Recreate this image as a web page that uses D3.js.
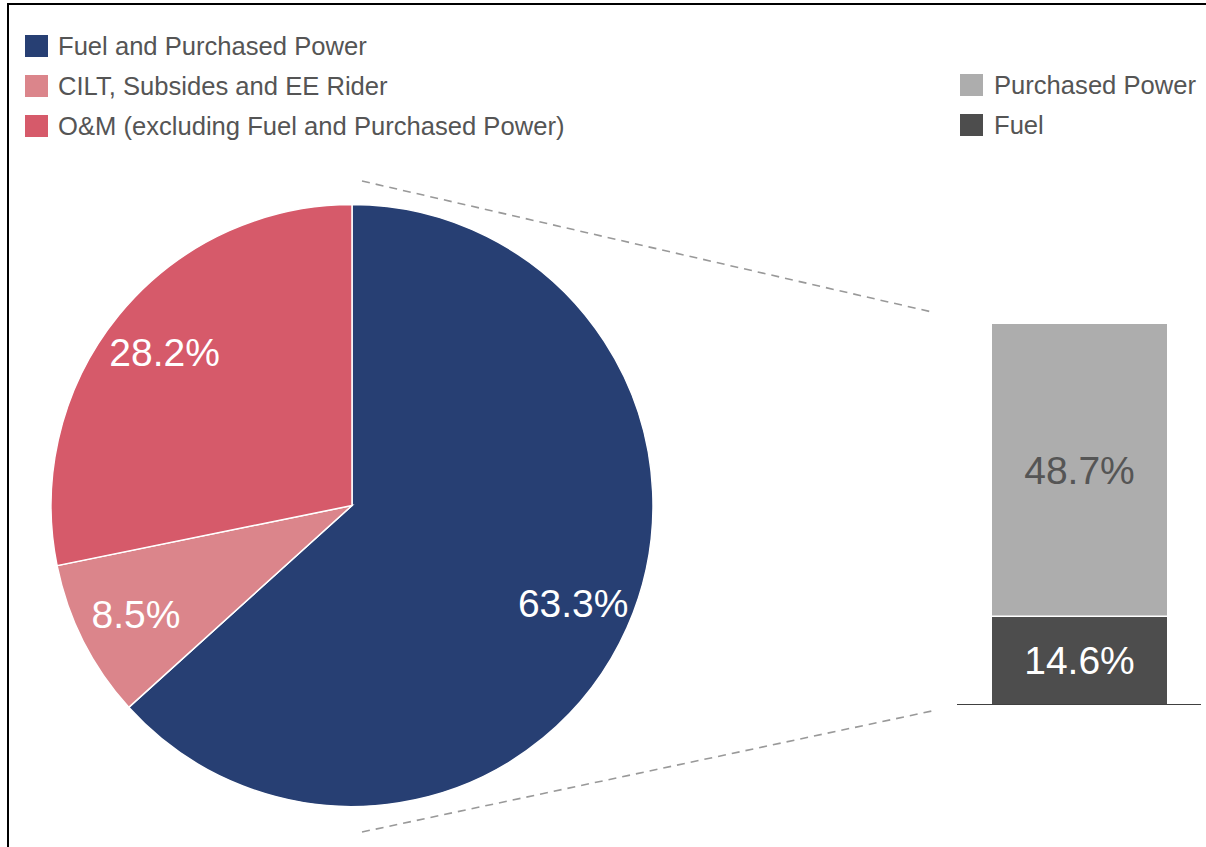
<!DOCTYPE html>
<html>
<head>
<meta charset="utf-8">
<script src="https://cdn.jsdelivr.net/npm/d3@7"></script>
<style>
  html, body { margin: 0; padding: 0; background: #fff; }
  svg { display: block; font-family: "Liberation Sans", Arial, sans-serif; }
</style>
</head>
<body>
<svg id="chart" width="1206" height="847"></svg>
<script>
// Cost breakdown: pie of total costs, with the fuel/purchased power slice split out as a stacked bar
const pieCategories = ["Fuel and Purchased Power", "CILT, Subsides and EE Rider", "O&M (excluding Fuel and Purchased Power)"];
const pieValues = [63.3, 8.5, 28.2];
const pieColors = ["#273f73", "#db858b", "#d65a6a"];

const barCategories = ["Fuel", "Purchased Power"];
const barValues = [14.6, 48.7];
const barColors = ["#4d4d4d", "#adadad"];
const barLabelColors = ["#ffffff", "#555555"];

const svg = d3.select("#chart");
const W = 1206, H = 847;

// frame lines (top and left)
svg.append("line").attr("x1", 8).attr("x2", W).attr("y1", 4).attr("y2", 4)
  .attr("stroke", "#000").attr("stroke-width", 2);
svg.append("line").attr("x1", 8).attr("x2", 8).attr("y1", 3).attr("y2", H)
  .attr("stroke", "#000").attr("stroke-width", 2);

// ---- pie ----
const cx = 352, cy = 505.5, R = 301;
const pie = d3.pie().sort(null).value(d => d)(pieValues);
const arc = d3.arc().innerRadius(0).outerRadius(R);
const labelArc = d3.arc().innerRadius(242).outerRadius(242);

const gPie = svg.append("g").attr("transform", `translate(${cx},${cy})`);
gPie.selectAll("path").data(pie).join("path")
  .attr("d", arc)
  .attr("fill", (d, i) => pieColors[i])
  .attr("stroke", "#fff")
  .attr("stroke-width", 1.5);
gPie.selectAll("text").data(pie).join("text")
  .attr("transform", d => `translate(${labelArc.centroid(d)})`)
  .attr("text-anchor", "middle")
  .attr("dominant-baseline", "central")
  .attr("fill", "#fff")
  .attr("font-size", 39)
  .text(d => d.value.toFixed(1) + "%");

// ---- stacked bar ----
const barTotal = d3.sum(barValues);
const y = d3.scaleLinear().domain([0, barTotal]).range([704, 324]);
const x0 = 992, bw = 175;
const stackData = d3.stack().keys(barCategories.map((_, i) => i))([barValues]);

const gBar = svg.append("g");
gBar.selectAll("rect").data(stackData).join("rect")
  .attr("x", x0)
  .attr("width", bw)
  .attr("y", d => y(d[0][1]))
  .attr("height", d => y(d[0][0]) - y(d[0][1]))
  .attr("fill", (d, i) => barColors[i]);
// separator between segments
stackData.slice(1).forEach(d => {
  gBar.append("line").attr("x1", x0).attr("x2", x0 + bw)
    .attr("y1", y(d[0][0])).attr("y2", y(d[0][0]))
    .attr("stroke", "#fff").attr("stroke-width", 1.5);
});
gBar.selectAll("text").data(stackData).join("text")
  .attr("x", x0 + bw / 2)
  .attr("y", d => (y(d[0][0]) + y(d[0][1])) / 2)
  .attr("text-anchor", "middle")
  .attr("dominant-baseline", "central")
  .attr("fill", (d, i) => barLabelColors[i])
  .attr("font-size", 39)
  .text((d, i) => barValues[i].toFixed(1) + "%");
// baseline
svg.append("line").attr("x1", 957).attr("x2", 1201).attr("y1", y(0) + 0.5).attr("y2", y(0) + 0.5)
  .attr("stroke", "#404040").attr("stroke-width", 1);

// ---- connector lines ----
const dash = { stroke: "#999", "stroke-width": 1.6, "stroke-dasharray": "8,6" };
[[362, 181, 932, 312], [362, 832, 932, 711]].forEach(([a, b, c, d]) => {
  const l = svg.append("line").attr("x1", a).attr("y1", b).attr("x2", c).attr("y2", d);
  Object.entries(dash).forEach(([k, v]) => l.attr(k, v));
});

// ---- legends ----
const legLeft = svg.append("g");
pieCategories.forEach((c, i) => {
  const yy = 35 + i * 40;
  legLeft.append("rect").attr("x", 25).attr("y", yy).attr("width", 23).attr("height", 22).attr("fill", pieColors[i]);
  legLeft.append("text").attr("x", 58).attr("y", yy + 11).attr("dominant-baseline", "central")
    .attr("font-size", 25.6).attr("fill", "#555").text(c);
});
const legRight = svg.append("g");
barCategories.slice().reverse().forEach((c, j) => {
  const i = barCategories.length - 1 - j;
  const yy = 74 + j * 40;
  legRight.append("rect").attr("x", 960).attr("y", yy).attr("width", 23).attr("height", 22).attr("fill", barColors[i]);
  legRight.append("text").attr("x", 994).attr("y", yy + 11).attr("dominant-baseline", "central")
    .attr("font-size", 25.6).attr("fill", "#555").text(c);
});
</script>
</body>
</html>
